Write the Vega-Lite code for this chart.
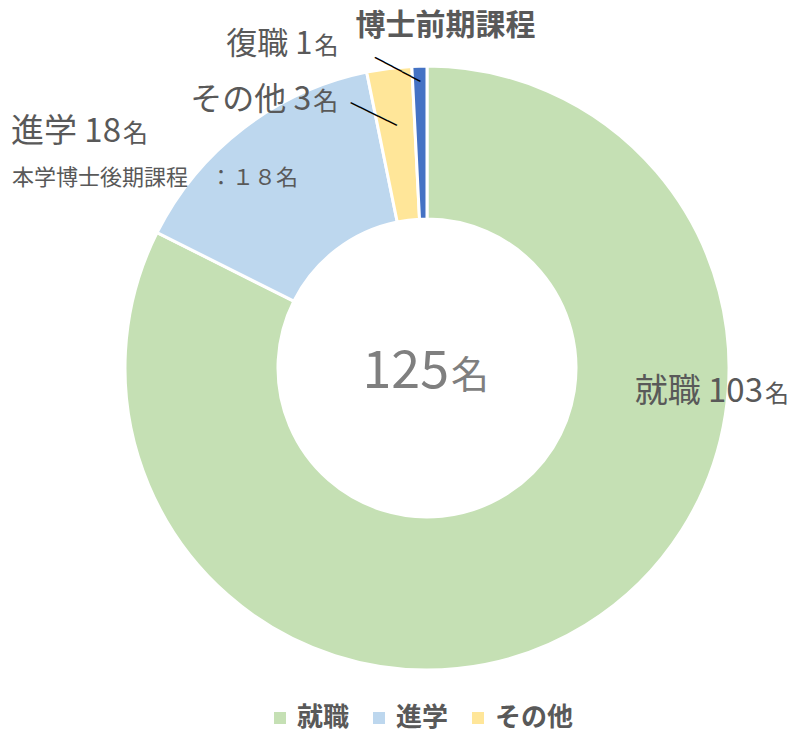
{
  "$schema": "https://vega.github.io/schema/vega-lite/v6.json",
  "autosize": {"type": "none"},
  "width": 746,
  "height": 736,
  "padding": {"left": 54, "top": 0, "right": 0, "bottom": 6},
  "background": "white",
  "config": {"view": {"stroke": null}, "text": {"font": "Noto Sans CJK JP", "color": "#595959", "baseline": "alphabetic"}},
  "data": {"values": [
    {"cat": "就職", "n": 103, "order": 1, "label": "就職 103"},
    {"cat": "進学", "n": 18, "order": 2, "label": "進学 18"},
    {"cat": "その他", "n": 3, "order": 3, "label": "その他 3"},
    {"cat": "復職", "n": 1, "order": 4, "label": "復職 1"}
  ]},
  "encoding": {
    "theta": {"field": "n", "type": "quantitative", "stack": true},
    "order": {"field": "order", "type": "quantitative", "sort": "ascending"}
  },
  "layer": [
    {
      "mark": {"type": "arc", "outerRadius": 302, "innerRadius": 149, "stroke": "white", "strokeWidth": 3},
      "encoding": {
        "color": {
          "field": "cat", "type": "nominal",
          "scale": {"domain": ["就職", "進学", "その他", "復職"], "range": ["#C5E0B4", "#BDD7EE", "#FFE699", "#4472C4"]},
          "legend": {
            "values": ["就職", "進学", "その他"], "title": null, "orient": "none",
            "legendX": 213, "legendY": 705, "direction": "horizontal",
            "symbolType": "square", "symbolSize": 144, "symbolStrokeWidth": 0,
            "labelFont": "Noto Sans CJK JP", "labelFontSize": 26, "labelFontWeight": "bold",
            "labelColor": "#595959", "labelOffset": 4, "columnPadding": 16, "padding": 0
          }
        }
      }
    },
    {
      "mark": {"type": "text", "radius": 0, "dx": 336, "dy": 34, "align": "right", "fontSize": 33},
      "encoding": {"detail": {"field": "cat"}, "text": {"condition": {"test": "datum.cat === '就職'", "field": "label"}, "value": ""}}
    },
    {
      "mark": {"type": "text", "radius": 0, "dx": 338, "dy": 34, "align": "left", "fontSize": 24},
      "encoding": {"detail": {"field": "cat"}, "text": {"condition": {"test": "datum.cat === '就職'", "value": "名"}, "value": ""}}
    },
    {
      "mark": {"type": "text", "radius": 301, "dx": -123, "dy": 13, "align": "right", "fontSize": 33},
      "encoding": {"detail": {"field": "cat"}, "text": {"condition": {"test": "datum.cat === '進学'", "field": "label"}, "value": ""}}
    },
    {
      "mark": {"type": "text", "radius": 301, "dx": -121, "dy": 13, "align": "left", "fontSize": 25},
      "encoding": {"detail": {"field": "cat"}, "text": {"condition": {"test": "datum.cat === '進学'", "value": "名"}, "value": ""}}
    },
    {
      "mark": {"type": "text", "radius": 301, "dx": -232, "dy": 56, "align": "left", "fontSize": 22},
      "encoding": {"detail": {"field": "cat"}, "text": {"condition": {"test": "datum.cat === '進学'", "value": "本学博士後期課程　：１８名"}, "value": ""}}
    },
    {
      "mark": {"type": "text", "radius": 301, "dx": -78, "dy": 41, "align": "right", "fontSize": 32},
      "encoding": {"detail": {"field": "cat"}, "text": {"condition": {"test": "datum.cat === 'その他'", "field": "label"}, "value": ""}}
    },
    {
      "mark": {"type": "text", "radius": 301, "dx": -76, "dy": 41, "align": "left", "fontSize": 25},
      "encoding": {"detail": {"field": "cat"}, "text": {"condition": {"test": "datum.cat === 'その他'", "value": "名"}, "value": ""}}
    },
    {
      "mark": {"type": "text", "radius": 244, "align": "right", "baseline": "middle", "angle": 26, "fontSize": 17, "font": "DejaVu Sans Mono", "color": "#000000"},
      "encoding": {"detail": {"field": "cat"}, "text": {"condition": {"test": "datum.cat === 'その他'", "value": "─────"}, "value": ""}}
    },
    {
      "mark": {"type": "text", "radius": 301, "dx": -107, "dy": -13, "align": "right", "fontSize": 31},
      "encoding": {"detail": {"field": "cat"}, "text": {"condition": {"test": "datum.cat === '復職'", "field": "label"}, "value": ""}}
    },
    {
      "mark": {"type": "text", "radius": 301, "dx": -105, "dy": -13, "align": "left", "fontSize": 24},
      "encoding": {"detail": {"field": "cat"}, "text": {"condition": {"test": "datum.cat === '復職'", "value": "名"}, "value": ""}}
    },
    {
      "mark": {"type": "text", "radius": 286, "align": "right", "baseline": "middle", "angle": 28, "fontSize": 17, "font": "DejaVu Sans Mono", "color": "#000000"},
      "encoding": {"detail": {"field": "cat"}, "text": {"condition": {"test": "datum.cat === '復職'", "value": "─────"}, "value": ""}}
    },
    {
      "mark": {"type": "text", "radius": 301, "dx": 26, "dy": -32, "align": "center", "fontSize": 30, "fontWeight": "bold"},
      "encoding": {"detail": {"field": "cat"}, "text": {"condition": {"test": "datum.cat === '復職'", "value": "博士前期課程"}, "value": ""}}
    },
    {
      "mark": {"type": "text", "radius": 0, "dx": 22, "dy": 20, "align": "right", "fontSize": 52, "color": "#7F7F7F"},
      "encoding": {"detail": {"field": "cat"}, "text": {"condition": {"test": "datum.cat === '就職'", "value": "125"}, "value": ""}}
    },
    {
      "mark": {"type": "text", "radius": 0, "dx": 24, "dy": 20, "align": "left", "fontSize": 38, "color": "#7F7F7F"},
      "encoding": {"detail": {"field": "cat"}, "text": {"condition": {"test": "datum.cat === '就職'", "value": "名"}, "value": ""}}
    }
  ]
}
